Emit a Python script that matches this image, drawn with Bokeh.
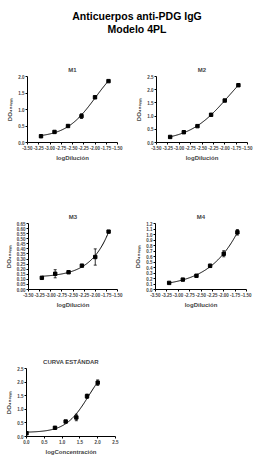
import numpy as np
from bokeh.plotting import figure
from bokeh.layouts import column, row
from bokeh.models import (FixedTicker, NumeralTickFormatter, Whisker, ColumnDataSource,
                          TeeHead, Label, Range1d)
from bokeh.embed import file_html
from bokeh.resources import INLINE

# ---------------- data ----------------
main_title = ["Anticuerpos anti-PDG IgG", "Modelo 4PL"]
log_dil = [-3.2, -2.9, -2.6, -2.3, -2.0, -1.7]
m1_od = [0.19, 0.32, 0.50, 0.80, 1.37, 1.86]
m1_sd = [0.01, 0.02, 0.02, 0.07, 0.03, 0.02]
m2_od = [0.21, 0.39, 0.62, 1.05, 1.59, 2.17]
m2_sd = [0.01, 0.01, 0.02, 0.03, 0.02, 0.03]
m3_od = [0.115, 0.155, 0.17, 0.235, 0.32, 0.57]
m3_sd = [0.005, 0.04, 0.005, 0.01, 0.08, 0.01]
m4_od = [0.12, 0.18, 0.25, 0.43, 0.65, 1.04]
m4_sd = [0.01, 0.01, 0.02, 0.03, 0.055, 0.05]
log_conc = [0.0, 0.8, 1.1, 1.4, 1.7, 2.0]
std_od = [0.12, 0.32, 0.55, 0.70, 1.48, 1.98]
std_sd = [0.02, 0.02, 0.03, 0.12, 0.08, 0.10]

dil_ticks = [-3.5, -3.25, -3.0, -2.75, -2.5, -2.25, -2.0, -1.75, -1.5]
conc_ticks = [0.0, 0.5, 1.0, 1.5, 2.0, 2.5]
y_ticks_m1 = [0.0, 0.5, 1.0, 1.5, 2.0]
y_ticks_m2 = [0.0, 0.5, 1.0, 1.5, 2.0, 2.5]
y_ticks_m3 = [round(0.05 * i, 2) for i in range(14)]
y_ticks_m4 = [round(0.1 * i, 1) for i in range(13)]
y_ticks_std = [0.0, 0.5, 1.0, 1.5, 2.0, 2.5]

FONT = "Liberation Sans"


def fit4pl(x, y, Ls, Hs):
    x = np.asarray(x, float)
    y = np.asarray(y, float)
    X = x[None, None, :]
    L = Ls[:, None, None]
    H = Hs[None, :, None]
    f = 1.0 / (1.0 + 10.0 ** ((L - X) * H))
    fm = f.mean(-1, keepdims=True)
    ym = y.mean()
    A = ((f - fm) * (y - ym)).sum(-1) / ((f - fm) ** 2).sum(-1)
    B = ym - A * fm[..., 0]
    sse = ((y - B[..., None] - A[..., None] * f) ** 2).sum(-1)
    i, j = np.unravel_index(np.nanargmin(sse), sse.shape)
    return Ls[i], Hs[j], A[i, j], B[i, j]


def panel(title, xs, ys, sds, xr, yr, xticks, yticks, xfmt, yfmt, xlabel,
          w, h, bl, br, bt, bb, Ls):
    p = figure(width=w, height=h, x_range=Range1d(*xr), y_range=Range1d(*yr),
               toolbar_location=None, output_backend="svg",
               min_border_left=bl, min_border_right=br,
               min_border_top=bt, min_border_bottom=bb, title=title)
    p.title.align = "center"
    p.title.text_font = FONT
    p.title.text_font_size = "6px"
    p.title.text_font_style = "bold"
    p.title.standoff = 7
    p.outline_line_color = None
    p.grid.visible = False
    p.background_fill_color = "white"
    p.border_fill_color = "white"

    for ax in (p.xaxis[0], p.yaxis[0]):
        ax.axis_line_color = "black"
        ax.axis_line_width = 1
        ax.major_tick_line_color = "black"
        ax.major_tick_in = 0
        ax.major_tick_out = 2
        ax.minor_tick_line_color = None
        ax.major_label_text_font = FONT
        ax.major_label_text_font_size = "4.5px"
        ax.major_label_text_font_style = "bold"
        ax.major_label_standoff = 1
        ax.axis_label_text_font = FONT
        ax.axis_label_text_font_size = "6px"
        ax.axis_label_text_font_style = "bold"
        ax.axis_label_standoff = 2
    p.xaxis.ticker = FixedTicker(ticks=xticks)
    p.yaxis.ticker = FixedTicker(ticks=yticks)
    p.xaxis.formatter = NumeralTickFormatter(format=xfmt)
    p.yaxis.formatter = NumeralTickFormatter(format=yfmt)
    p.xaxis.axis_label = xlabel
    p.yaxis.axis_label = "DO\u2084\u2085\u2080\u2099\u2098"

    # 4PL fit curve
    Lb, Hb, A, B = fit4pl(xs, ys, Ls, np.arange(0.3, 4.0, 0.01))
    cx = np.linspace(min(xs), max(xs), 120)
    cy = B + A / (1.0 + 10.0 ** ((Lb - cx) * Hb))
    p.line(cx, cy, line_color="black", line_width=1)

    src = ColumnDataSource(dict(x=xs, y=ys,
                                lo=[a - b for a, b in zip(ys, sds)],
                                hi=[a + b for a, b in zip(ys, sds)]))
    wh = Whisker(source=src, base="x", upper="hi", lower="lo", line_color="black",
                 line_width=0.8,
                 upper_head=TeeHead(size=3, line_color="black", line_width=0.8),
                 lower_head=TeeHead(size=3, line_color="black", line_width=0.8))
    p.add_layout(wh)
    p.scatter("x", "y", source=src, marker="square", size=3.4,
              fill_color="black", line_color="black")
    return p


Ls_dil = np.arange(-3.5, 0.5, 0.01)
Ls_conc = np.arange(0.0, 4.0, 0.01)

# header
head = figure(width=264, height=53, x_range=Range1d(0, 264), y_range=Range1d(0, 53),
              toolbar_location=None, output_backend="svg", min_border=0)
head.axis.visible = False
head.grid.visible = False
head.outline_line_color = None
for k, t in enumerate(main_title):
    head.add_layout(Label(x=132, y=53 - 15 - 13 * k, text=t, text_align="center",
                          text_baseline="middle", text_font=FONT,
                          text_font_size="10.5px", text_font_style="bold",
                          text_color="black"))

p1 = panel("M1", log_dil, m1_od, m1_sd, (-3.5, -1.5), (0, 2.0), dil_ticks, y_ticks_m1,
           "0.00", "0.0", "logDilución", 132, 147, 27, 15, 23, 58, Ls_dil)
p2 = panel("M2", log_dil, m2_od, m2_sd, (-3.5, -1.5), (0, 2.5), dil_ticks, y_ticks_m2,
           "0.00", "0.0", "logDilución", 132, 147, 24, 17, 23, 58, Ls_dil)
p3 = panel("M3", log_dil, m3_od, m3_sd, (-3.5, -1.5), (0, 0.65), dil_ticks, y_ticks_m3,
           "0.00", "0.00", "logDilución", 132, 145, 28, 15, 23, 56, Ls_dil)
p4 = panel("M4", log_dil, m4_od, m4_sd, (-3.5, -1.5), (0, 1.2), dil_ticks, y_ticks_m4,
           "0.00", "0.0", "logDilución", 132, 145, 23, 18, 23, 56, Ls_dil)
p5 = panel("CURVA ESTÁNDAR", log_conc, std_od, std_sd, (0, 2.5), (0, 2.5), conc_ticks,
           y_ticks_std, "0.0", "0.0", "logConcentración", 132, 118, 26, 17, 23, 27, Ls_conc)

layout = column(head, row(p1, p2), row(p3, p4), p5, spacing=0)
html = file_html(layout, INLINE)
open("out.html", "w").write(html)
